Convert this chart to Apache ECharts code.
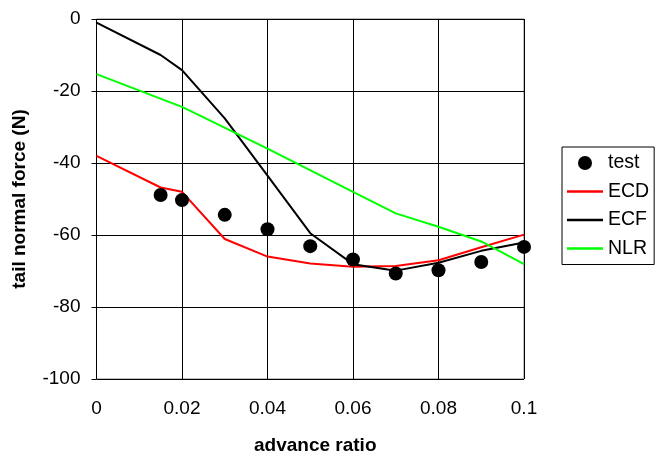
<!DOCTYPE html>
<html><head><meta charset="utf-8">
<script src="https://cdn.jsdelivr.net/npm/echarts@6/dist/echarts.min.js"></script>
<style>html,body{margin:0;padding:0;background:#fff}#c{width:668px;height:457px}</style>
</head><body><div id="c"></div>
<script>
const xTicks = [0, 0.02, 0.04, 0.06, 0.08, 0.1];
const testX = [0.015, 0.02, 0.03, 0.04, 0.05, 0.06, 0.07, 0.08, 0.09, 0.1];
const testY = [-48.9, -50.3, -54.4, -58.4, -63.1, -66.8, -70.7, -69.8, -67.5, -63.3];
const ecdX = [0, 0.015, 0.02, 0.03, 0.04, 0.05, 0.06, 0.07, 0.08, 0.09, 0.1];
const ecdY = [-38, -46.8, -48, -61.1, -66, -67.9, -68.8, -68.6, -67, -63.4, -59.9];
const ecfX = [0, 0.015, 0.02, 0.03, 0.04, 0.05, 0.06, 0.07, 0.08, 0.09, 0.1];
const ecfY = [-1, -10, -14.2, -27.6, -43.5, -59.5, -68.1, -69.9, -67.7, -64.4, -62.1];
const nlrX = [0, 0.02, 0.04, 0.06, 0.07, 0.08, 0.09, 0.1];
const nlrY = [-15.3, -24.4, -36, -48, -54, -57.7, -61.8, -68.1];
const zip = (a, b) => a.map((v, i) => [v, b[i]]);
const font = 'Liberation Sans, Arial, sans-serif';
const lineIcon = 'path://M0,0h36v2.5h-36z';
const dotIcon = 'path://M0,0M36,18M25,9a7,7 0 1,0 -14,0a7,7 0 1,0 14,0z';
const chart = echarts.init(document.getElementById('c'), null, {renderer: 'canvas'});
chart.setOption({
  animation: false,
  grid: {left: 96.5, right: 144, top: 19, bottom: 78, show: true, borderColor: '#808080', borderWidth: 1, backgroundColor: 'transparent', outerBoundsMode: 'none', containLabel: false},
  xAxis: {
    type: 'value', min: 0, max: 0.1, interval: 0.02,
    name: 'advance ratio', nameLocation: 'middle', nameGap: 57,
    nameTextStyle: {fontFamily: font, fontSize: 19, fontWeight: 'bold', color: '#000', padding: [0, 0, 0, 10]},
    axisLine: {show: false},
    axisTick: {show: true, length: 5, lineStyle: {color: '#000'}},
    axisLabel: {fontFamily: font, fontSize: 19, color: '#000', margin: 20},
    splitLine: {show: true, lineStyle: {color: '#000', width: 1}}
  },
  yAxis: {
    type: 'value', min: -100, max: 0, interval: 20,
    name: 'tail normal force (N)', nameLocation: 'middle', nameGap: 67,
    nameTextStyle: {fontFamily: font, fontSize: 19, fontWeight: 'bold', color: '#000'},
    axisLine: {show: false},
    axisTick: {show: true, length: 5, lineStyle: {color: '#000'}},
    axisLabel: {fontFamily: font, fontSize: 19, color: '#000', margin: 16},
    splitLine: {show: true, lineStyle: {color: '#000', width: 1}}
  },
  legend: {
    orient: 'vertical', left: 562, top: 147,
    padding: [6, 5, 6, 5], itemGap: 8.5, itemWidth: 36, itemHeight: 18,
    borderColor: '#000', borderWidth: 1, symbolKeepAspect: true,
    itemStyle: {borderWidth: 0},
    textStyle: {fontFamily: font, fontSize: 19.5, color: '#000'},
    data: [
      {name: 'test', icon: dotIcon},
      {name: 'ECD', icon: lineIcon}, {name: 'ECF', icon: lineIcon}, {name: 'NLR', icon: lineIcon}
    ]
  },
  series: [
    {name: 'ECD', type: 'line', data: zip(ecdX, ecdY), showSymbol: false, symbol: 'none', lineStyle: {color: '#ff0000', width: 2}, itemStyle: {color: '#ff0000'}},
    {name: 'ECF', type: 'line', data: zip(ecfX, ecfY), showSymbol: false, symbol: 'none', lineStyle: {color: '#000000', width: 2}, itemStyle: {color: '#000000'}},
    {name: 'NLR', type: 'line', data: zip(nlrX, nlrY), showSymbol: false, symbol: 'none', lineStyle: {color: '#00ff00', width: 2}, itemStyle: {color: '#00ff00'}},
    {name: 'test', type: 'scatter', data: zip(testX, testY), symbol: 'circle', symbolSize: 14, itemStyle: {color: '#000', opacity: 1}, z: 5}
  ]
});
</script></body></html>
